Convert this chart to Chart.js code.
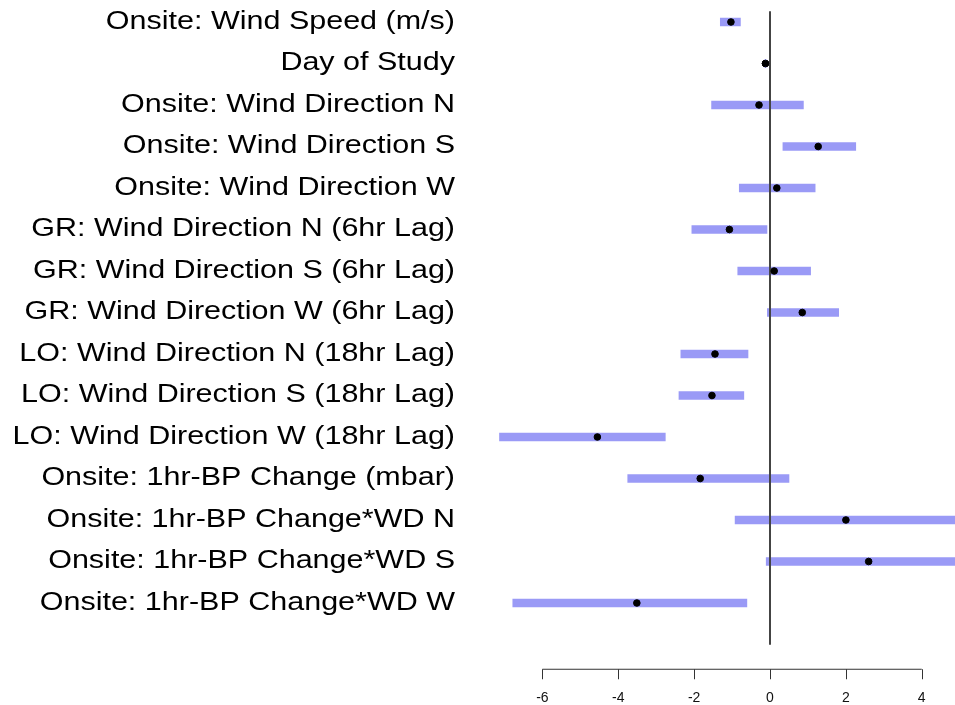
<!DOCTYPE html>
<html>
<head>
<meta charset="utf-8">
<script src="https://cdn.jsdelivr.net/npm/chart.js@4"></script>
<style>
  html, body { margin: 0; padding: 0; background: #fff; }
  #wrap { width: 955px; height: 705px; position: relative; }
</style>
</head>
<body>
<div id="wrap"><canvas id="forest"></canvas></div>
<script>
// predictors, point estimates and interval bounds
const predictors = [
    "Onsite: Wind Speed (m/s)",
    "Day of Study",
    "Onsite: Wind Direction N",
    "Onsite: Wind Direction S",
    "Onsite: Wind Direction W",
    "GR: Wind Direction N (6hr Lag)",
    "GR: Wind Direction S (6hr Lag)",
    "GR: Wind Direction W (6hr Lag)",
    "LO: Wind Direction N (18hr Lag)",
    "LO: Wind Direction S (18hr Lag)",
    "LO: Wind Direction W (18hr Lag)",
    "Onsite: 1hr-BP Change (mbar)",
    "Onsite: 1hr-BP Change*WD N",
    "Onsite: 1hr-BP Change*WD S",
    "Onsite: 1hr-BP Change*WD W"
];
const estimates = [-1.03, -0.12, -0.29, 1.27, 0.18, -1.07, 0.11, 0.85, -1.45, -1.53, -4.55, -1.84, 2.00, 2.60, -3.51];
const lower = [-1.31, -0.14, -1.54, 0.34, -0.81, -2.06, -0.85, -0.07, -2.35, -2.40, -7.13, -3.75, -0.92, -0.10, -6.78];
const upper = [-0.78, -0.10, 0.88, 2.26, 1.19, -0.08, 1.07, 1.81, -0.58, -0.69, -2.76, 0.50, 6.10, 6.50, -0.61];
const xTicks = [-6, -4, -2, 0, 2, 4];

const FONT = "'Liberation Sans', Arial, sans-serif";
const LABEL_STRETCH = 1.22; // the original labels are rendered a bit wide

// no automatic padding from tick labels, the plot box is set by hand
function noPadding(scale) {
    scale.paddingLeft = 0;
    scale.paddingRight = 0;
    scale.paddingTop = 0;
    scale.paddingBottom = 0;
}

// R-style axis: line only from first to last tick, plus the zero reference line
const forestExtras = {
    id: "forestExtras",
    afterDatasetsDraw(chart) {
        const ctx = chart.ctx;
        const x = chart.scales.x;
        const area = chart.chartArea;

        ctx.save();
        ctx.strokeStyle = "#444";
        ctx.lineWidth = 2;
        const zx = Math.round(x.getPixelForValue(0));
        ctx.beginPath();
        ctx.moveTo(zx, area.top + 10);
        ctx.lineTo(zx, area.bottom + 21);
        ctx.stroke();

        const axisY = area.bottom + 45.5;
        ctx.strokeStyle = "#333";
        ctx.lineWidth = 1;
        ctx.beginPath();
        ctx.moveTo(x.getPixelForValue(xTicks[0]), axisY);
        ctx.lineTo(x.getPixelForValue(xTicks[xTicks.length - 1]), axisY);
        xTicks.forEach(v => {
            const px = Math.round(x.getPixelForValue(v)) + 0.5;
            ctx.moveTo(px, axisY);
            ctx.lineTo(px, axisY + 10);
        });
        ctx.stroke();

        // redraw the estimates on top of the zero line
        chart.getDatasetMeta(1).controller.draw();
        ctx.restore();
    }
};

new Chart(document.getElementById("forest"), {
    data: {
        labels: predictors,
        datasets: [
            {
                type: "bar",
                data: predictors.map((p, i) => [lower[i], upper[i]]),
                backgroundColor: "#9a9af6",
                borderWidth: 0,
                barThickness: 8,
                xAxisID: "x",
                yAxisID: "y"
            },
            {
                type: "scatter",
                data: predictors.map((p, i) => ({ x: estimates[i], y: p })),
                backgroundColor: "#000",
                borderColor: "#000",
                pointRadius: 3.3,
                xAxisID: "x",
                yAxisID: "y"
            }
        ]
    },
    options: {
        indexAxis: "y",
        responsive: true,
        maintainAspectRatio: false,
        animation: false,
        layout: { autoPadding: false, padding: { top: 1.25, right: 0, bottom: 0, left: 0 } },
        plugins: {
            legend: { display: false },
            tooltip: { enabled: false }
        },
        scales: {
            x: {
                type: "linear",
                min: -8,
                max: 4.876,
                afterBuildTicks: scale => {
                    scale.ticks = xTicks.map(v => ({ value: v }));
                },
                afterFit: scale => {
                    scale.height = 81.25;
                    noPadding(scale);
                },
                grid: { display: false, drawTicks: false },
                border: { display: false },
                ticks: {
                    padding: 66,
                    color: "#111",
                    font: { family: FONT, size: 14 }
                }
            },
            y: {
                type: "category",
                offset: true,
                afterFit: scale => {
                    scale.width = 466.5;
                    noPadding(scale);
                    if (!scale._stretched) {
                        const drawLabels = scale.drawLabels;
                        scale.drawLabels = function (area) {
                            const ctx = this.ctx;
                            const edge = this.right - this.options.ticks.padding;
                            ctx.save();
                            ctx.translate(edge, 0);
                            ctx.scale(LABEL_STRETCH, 1);
                            ctx.translate(-edge, 0);
                            drawLabels.call(this, area);
                            ctx.restore();
                        };
                        scale._stretched = true;
                    }
                },
                grid: { display: false, drawTicks: false },
                border: { display: false },
                ticks: {
                    padding: 11.5,
                    color: "#000",
                    font: { family: FONT, size: 25 }
                }
            }
        }
    },
    plugins: [forestExtras]
});
</script>
</body>
</html>
